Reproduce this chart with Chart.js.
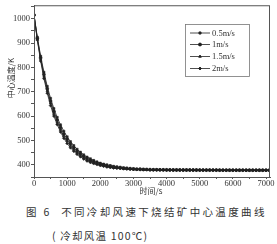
<!DOCTYPE html>
<html lang="zh">
<head>
<meta charset="utf-8">
<title>烧结矿中心温度曲线</title>
<script src="https://cdn.jsdelivr.net/npm/chart.js@4.4.0/dist/chart.umd.min.js"></script>
<style>
  body { margin: 0; background: #fff; width: 277px; height: 244px; overflow: hidden; }
  #box { position: relative; width: 277px; height: 196px; }
  .cap { position: absolute; font-family: "Noto Sans CJK SC", sans-serif; color: #333; font-size: 10.5px; white-space: pre; }
</style>
</head>
<body>
<div id="box"><canvas id="tempChart" width="277" height="196"></canvas></div>
<div class="cap" style="left:26px; top:204px; letter-spacing:2.35px;">图 6  不同冷却风速下烧结矿中心温度曲线</div>
<div class="cap" style="left:52px; top:228px; letter-spacing:1.2px;">( 冷却风温 100℃)</div>
<script>
// time (s)
var times = [0,100,200,300,400,500,600,700,800,900,1000,1100,1200,1300,1400,1500,1600,1700,1800,1900,
  2000,2100,2200,2300,2400,2500,2600,2700,2800,2900,3000,3100,3200,3300,3400,3500,
  3600,3700,3800,3900,4000,4100,4200,4300,4400,4500,4600,4700,4800,4900,5000,5100,5200,5300,
  5400,5500,5600,5700,5800,5900,6000,6100,6200,6300,6400,6500,6600,6700,6800,6900,7000,7100];

// center temperature (K), one list per cooling air speed
var v05 = [1015,924,846,780,722,673,631,595,564,538,515,495,479,464,452,441,432,425,418,412,
  407,403,400,397,394,392,390,388,387,385,384,383,383,382,381,381,
  380.6,380.4,380.2,380.0,379.9,379.7,379.6,379.5,379.4,379.3,379.2,379.1,379.0,379.0,378.9,378.9,378.8,378.8,
  378.7,378.7,378.7,378.6,378.6,378.6,378.5,378.5,378.5,378.5,378.4,378.4,378.4,378.4,378.4,378.3,378.3,378.3];
var v10 = [1015,920,839,771,712,662,620,584,553,527,505,486,470,456,445,435,426,419,413,408,
  403,400,396,394,391,389,388,386,385,384,383,382,382,381,381,380,
  379.8,379.6,379.5,379.3,379.2,379.1,379.0,378.9,378.8,378.7,378.7,378.6,378.5,378.5,378.4,378.4,378.4,378.3,
  378.3,378.3,378.2,378.2,378.2,378.2,378.1,378.1,378.1,378.1,378.1,378.0,378.0,378.0,378.0,378.0,378.0,378.0];
var v15 = [1015,916,833,763,703,653,610,574,544,518,497,478,463,450,439,429,421,415,409,404,
  400,397,394,391,389,388,386,385,384,383,382,381,381,380,380,380,
  379.7,379.5,379.3,379.2,379.0,378.9,378.8,378.7,378.6,378.5,378.5,378.4,378.4,378.3,378.3,378.2,378.2,378.2,
  378.1,378.1,378.1,378.0,378.0,378.0,378.0,377.9,377.9,377.9,377.9,377.9,377.9,377.8,377.8,377.8,377.8,377.8];
var v20 = [1015,912,826,754,694,643,600,565,535,509,488,470,456,443,433,424,416,410,405,401,
  397,394,391,389,387,386,385,384,383,382,381,381,380,380,380,379,
  379.0,378.8,378.7,378.5,378.4,378.3,378.2,378.1,378.0,378.0,377.9,377.9,377.8,377.8,377.7,377.7,377.7,377.6,
  377.6,377.6,377.6,377.5,377.5,377.5,377.5,377.5,377.4,377.4,377.4,377.4,377.4,377.4,377.4,377.3,377.3,377.3];

var seriesNames = ['0.5m/s', '1m/s', '1.5m/s', '2m/s'];
var seriesVals = [v05, v10, v15, v20];
var markers = ['rect', 'circle', 'triangle', 'rectRot'];

var xTicks = [0,1000,2000,3000,4000,5000,6000,7000];
var yTicks = [400,500,600,700,800,900,1000];

var axisFont = { family: '"Liberation Serif", "DejaVu Serif", serif', size: 8.5, lineHeight: 1 };
var ink = '#333';

function points(vals) {
  return times.map(function (t, i) { return { x: t, y: vals[i] }; });
}

var datasets = seriesNames.map(function (name, k) {
  return {
    label: name,
    data: points(seriesVals[k]),
    borderColor: '#222',
    backgroundColor: '#222',
    borderWidth: 0.8,
    pointStyle: markers[k],
    pointRadius: 1.5,
    pointBorderWidth: 0.5,
    tension: 0
  };
});

// frame, axis titles, legend box
var decor = {
  id: 'decor',
  afterDraw: function (chart) {
    var c = chart.ctx, a = chart.chartArea;
    c.save();
    c.strokeStyle = '#555';
    c.lineWidth = 1;
    c.strokeRect(a.left + 0.5, a.top + 0.5, a.right - a.left - 1, a.bottom - a.top);

    c.fillStyle = ink;
    c.font = '8px "Noto Sans CJK SC", sans-serif';
    c.textAlign = 'center';
    c.textBaseline = 'middle';
    c.fillText('时间/s', 151, 191);
    c.save();
    c.translate(11, 78);
    c.rotate(-Math.PI / 2);
    c.fillText('中心温度/K', 0, 0);
    c.restore();

    // legend
    c.strokeStyle = '#777';
    c.lineWidth = 0.8;
    c.strokeRect(185.5, 24.5, 64, 52);
    var rows = [33, 44.5, 56.5, 68.5];
    c.font = '8.5px "Liberation Serif", serif';
    c.textAlign = 'left';
    seriesNames.forEach(function (name, k) {
      var y = rows[k];
      c.strokeStyle = '#222';
      c.lineWidth = 0.8;
      c.beginPath();
      c.moveTo(190, y);
      c.lineTo(210, y);
      c.stroke();
      c.fillStyle = '#222';
      if (Chart.helpers && Chart.helpers.drawPoint) {
        Chart.helpers.drawPoint(c, { pointStyle: markers[k], radius: 1.5, rotation: 0, borderWidth: 0.5 }, 200, y);
        c.fill();
      } else {
        c.fillRect(198.5, y - 1.5, 3, 3);
      }
      c.fillStyle = ink;
      c.fillText(name, 212, y + 0.5);
    });
    c.restore();
  }
};

new Chart(document.getElementById('tempChart'), {
  type: 'line',
  data: { datasets: datasets },
  options: {
    responsive: false,
    animation: false,
    layout: { padding: { left: 0, right: 7, top: 5, bottom: 0 } },
    plugins: { legend: { display: false }, tooltip: { enabled: false } },
    scales: {
      x: {
        type: 'linear',
        min: 0,
        max: 7120,
        afterFit: function (s) { s.height = 19; },
        afterBuildTicks: function (s) {
          var t = [];
          for (var i = 0; i <= 14; i++) t.push({ value: i * 500 });
          s.ticks = t;
        },
        ticks: {
          autoSkip: false,
          maxRotation: 0,
          padding: 1,
          color: ink,
          font: axisFont,
          callback: function (v) { return xTicks.indexOf(v) >= 0 ? String(v) : ''; }
        },
        grid: { drawOnChartArea: false, tickLength: 2, color: '#555' },
        border: { display: true, color: '#555' }
      },
      y: {
        type: 'linear',
        min: 350,
        max: 1055,
        afterFit: function (s) { s.width = 34; },
        afterBuildTicks: function (s) {
          var t = [];
          for (var v = 350; v <= 1050; v += 50) t.push({ value: v });
          s.ticks = t;
        },
        ticks: {
          autoSkip: false,
          padding: 1,
          color: ink,
          font: axisFont,
          callback: function (v) { return yTicks.indexOf(v) >= 0 ? String(v) : ''; }
        },
        grid: { drawOnChartArea: false, tickLength: 3, color: '#555' },
        border: { display: true, color: '#555' }
      }
    }
  },
  plugins: [decor]
});
</script>
</body>
</html>
